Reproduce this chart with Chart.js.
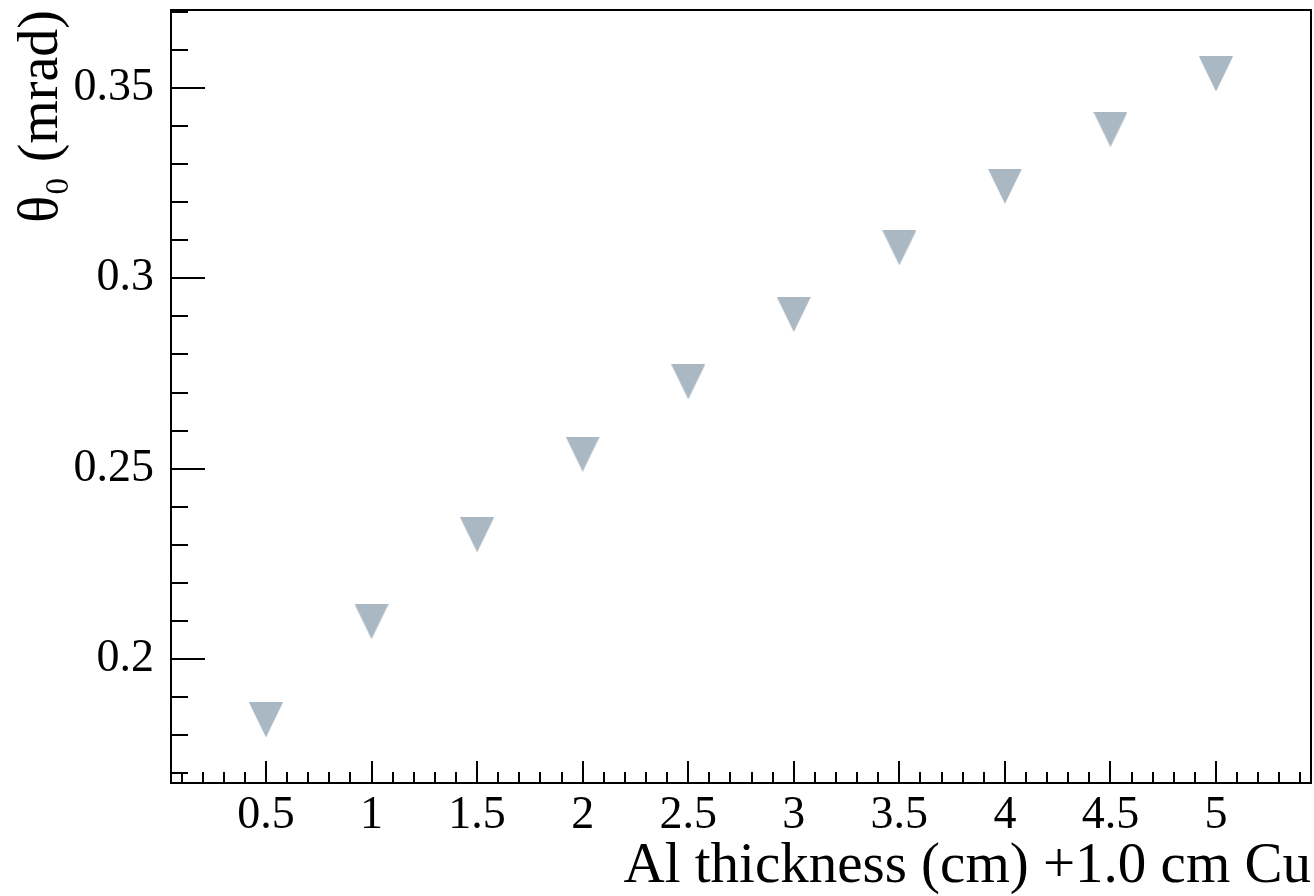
<!DOCTYPE html>
<html>
<head>
<meta charset="utf-8">
<script src="https://cdn.jsdelivr.net/npm/chart.js@4.4.0/dist/chart.umd.min.js"></script>
<style>
html,body{margin:0;padding:0;background:#fff;}
#wrap{width:1314px;height:896px;}
</style>
</head>
<body>
<div id="wrap"><canvas id="c" width="1314" height="896"></canvas></div>
<script>
// ---- data ----
const thicknessAl = [0.5, 1, 1.5, 2, 2.5, 3, 3.5, 4, 4.5, 5];
const theta0 = [0.1840, 0.2098, 0.2326, 0.2538, 0.2728, 0.2905, 0.3080, 0.3242, 0.3391, 0.3537];
const xTickLabels = ['0.5','1','1.5','2','2.5','3','3.5','4','4.5','5'];
const yTickLabels = ['0.2','0.25','0.3','0.35'];
const xTitle = 'Al thickness (cm) +1.0 cm Cu';
const yTitle = 'θ₀ (mrad)';

// marker: ROOT-style downward triangle
function makeTriangle(w, h, color) {
  const cv = document.createElement('canvas');
  cv.width = w; cv.height = h;
  const g = cv.getContext('2d');
  g.fillStyle = color;
  g.beginPath();
  g.moveTo(0, 0);
  g.lineTo(w, 0);
  g.lineTo(w / 2, h);
  g.closePath();
  g.fill();
  return cv;
}
const marker = makeTriangle(34, 35, 'rgb(170,184,196)');

const serif = '"Liberation Serif", "Times New Roman", serif';

const rootTicks = {
  id: 'rootTicks',
  afterDraw(chart) {
    const {ctx, chartArea: a} = chart;
    const xs = chart.scales.x, ys = chart.scales.y;
    ctx.save();
    ctx.strokeStyle = '#000';
    ctx.lineWidth = 2;
    // frame
    ctx.strokeRect(a.left, a.top, a.right - a.left, a.bottom - a.top);
    ctx.beginPath();
    // x minor
    for (let i = Math.ceil(xs.min * 10 - 1e-9); i <= Math.floor(xs.max * 10 + 1e-9); i++) {
      const p = Math.round(xs.getPixelForValue(i / 10));
      ctx.moveTo(p, a.bottom); ctx.lineTo(p, a.bottom - 11);
    }
    // x major
    xs.ticks.forEach(t => {
      const p = Math.round(xs.getPixelForValue(t.value));
      ctx.moveTo(p, a.bottom); ctx.lineTo(p, a.bottom - 22);
    });
    // y minor
    for (let i = Math.ceil(ys.min * 100 - 1e-9); i <= Math.floor(ys.max * 100 + 1e-9); i++) {
      const p = Math.round(ys.getPixelForValue(i / 100));
      ctx.moveTo(a.left, p); ctx.lineTo(a.left + 17, p);
    }
    // y major
    ys.ticks.forEach(t => {
      const p = Math.round(ys.getPixelForValue(t.value));
      ctx.moveTo(a.left, p); ctx.lineTo(a.left + 34, p);
    });
    ctx.stroke();
    ctx.restore();
  }
};

new Chart(document.getElementById('c'), {
  type: 'scatter',
  data: {
    datasets: [{
      data: thicknessAl.map((x, i) => ({x: x, y: theta0[i]})),
      pointStyle: marker,
      pointRadius: 17,
      pointHoverRadius: 17,
      clip: false
    }]
  },
  options: {
    responsive: false,
    animation: false,
    events: [],
    layout: {autoPadding: false, padding: {top: 10, right: 3, left: 0, bottom: 0}},
    plugins: {legend: {display: false}, tooltip: {enabled: false}},
    scales: {
      x: {
        type: 'linear',
        min: 0.05, max: 5.45,
        grid: {display: false},
        border: {display: false},
        afterFit(s) { s.height = 113; s.paddingLeft = 0; s.paddingRight = 0; },
        ticks: {
          stepSize: 0.5,
          includeBounds: false,
          padding: 2,
          maxRotation: 0,
          color: '#000',
          font: {family: serif, size: 46, lineHeight: 1},
          callback: function(v) {
            const i = thicknessAl.indexOf(Math.round(v * 10) / 10);
            return i >= 0 ? xTickLabels[i] : '';
          }
        },
        title: {
          display: true,
          text: xTitle,
          align: 'end',
          color: '#000',
          padding: {top: 0, bottom: 0},
          font: {family: serif, size: 57, lineHeight: 1}
        }
      },
      y: {
        type: 'linear',
        min: 0.1674, max: 0.3705,
        grid: {display: false},
        border: {display: false},
        afterFit(s) { s.width = 171; s.paddingTop = 0; s.paddingBottom = 0; },
        ticks: {
          stepSize: 0.05,
          includeBounds: false,
          padding: 9,
          color: '#000',
          font: {family: serif, size: 46, lineHeight: 1},
          callback: function(v) {
            const key = String(Number(v.toFixed(2)));
            return yTickLabels.includes(key) ? key : '';
          }
        },
        title: {
          display: true,
          text: yTitle,
          align: 'end',
          color: '#000',
          padding: {top: 14, bottom: 0},
          font: {family: serif, size: 56, lineHeight: 1}
        }
      }
    }
  },
  plugins: [rootTicks]
});
</script>
</body>
</html>
